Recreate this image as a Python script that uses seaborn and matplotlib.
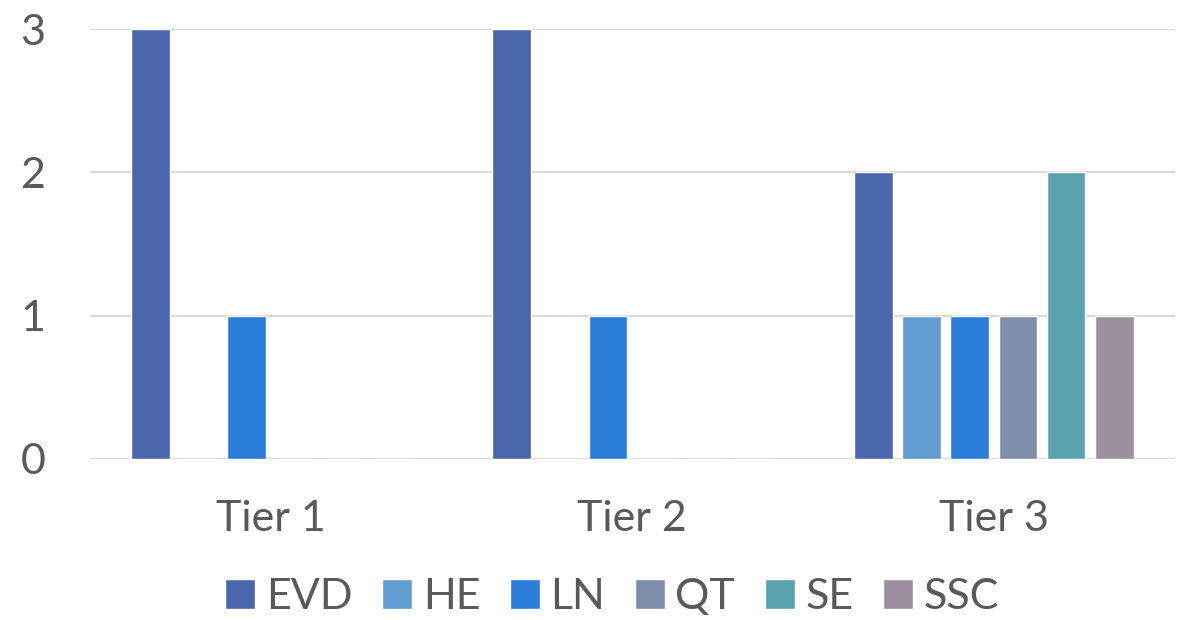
import matplotlib
matplotlib.use("Agg")
import matplotlib.pyplot as plt
import seaborn as sns
import pandas as pd

# data
tiers = ["Tier 1", "Tier 2", "Tier 3"]
methods = ["EVD", "HE", "LN", "QT", "SE", "SSC"]
evd = [3, 3, 2]
he = [0, 0, 1]
ln = [1, 1, 1]
qt = [0, 0, 1]
se = [0, 0, 2]
ssc = [0, 0, 1]
colors = ["#4a67ae", "#629dd1", "#2a7ed9", "#7f8fa9", "#5aa3ae", "#9d8ea0"]

series = dict(zip(methods, [evd, he, ln, qt, se, ssc]))
rows = []
for m, vals in series.items():
    for t, v in zip(tiers, vals):
        rows.append({"tier": t, "method": m, "count": v})
df = pd.DataFrame(rows)

sns.set_style("white")
plt.rcParams["font.family"] = ["Lato", "DejaVu Sans"]
text_color = "#595959"

fig = plt.figure(figsize=(11.84, 6.2), dpi=100)
ax = fig.add_axes([0.076, 0.26, 0.916, 0.693])

sns.barplot(data=df, x="tier", y="count", hue="method", order=tiers,
            hue_order=methods, palette=colors, width=0.8, gap=0.2,
            saturation=1, ax=ax, zorder=3)

ax.set_xlim(-0.5, 2.5)
ax.set_ylim(0, 3)
ax.set_yticks([0, 1, 2, 3])
ax.grid(axis="y", color="#d9d9d9", linewidth=1.5, zorder=0)
ax.set_axisbelow(True)
for s in ax.spines.values():
    s.set_visible(False)
ax.set_xlabel("")
ax.set_ylabel("")
ax.tick_params(axis="both", length=0, labelsize=31, colors=text_color)
ax.tick_params(axis="x", pad=30)
ax.tick_params(axis="y", pad=32)

handles, labels = ax.get_legend_handles_labels()
ax.legend_.remove()
fig.legend(handles, labels, loc="center", bbox_to_anchor=(0.517, 0.037),
           ncol=6, frameon=False, fontsize=31, labelcolor=text_color,
           handlelength=0.7, handleheight=0.7, handletextpad=0.25,
           columnspacing=0.68)

fig.savefig("out.png", dpi=100)
